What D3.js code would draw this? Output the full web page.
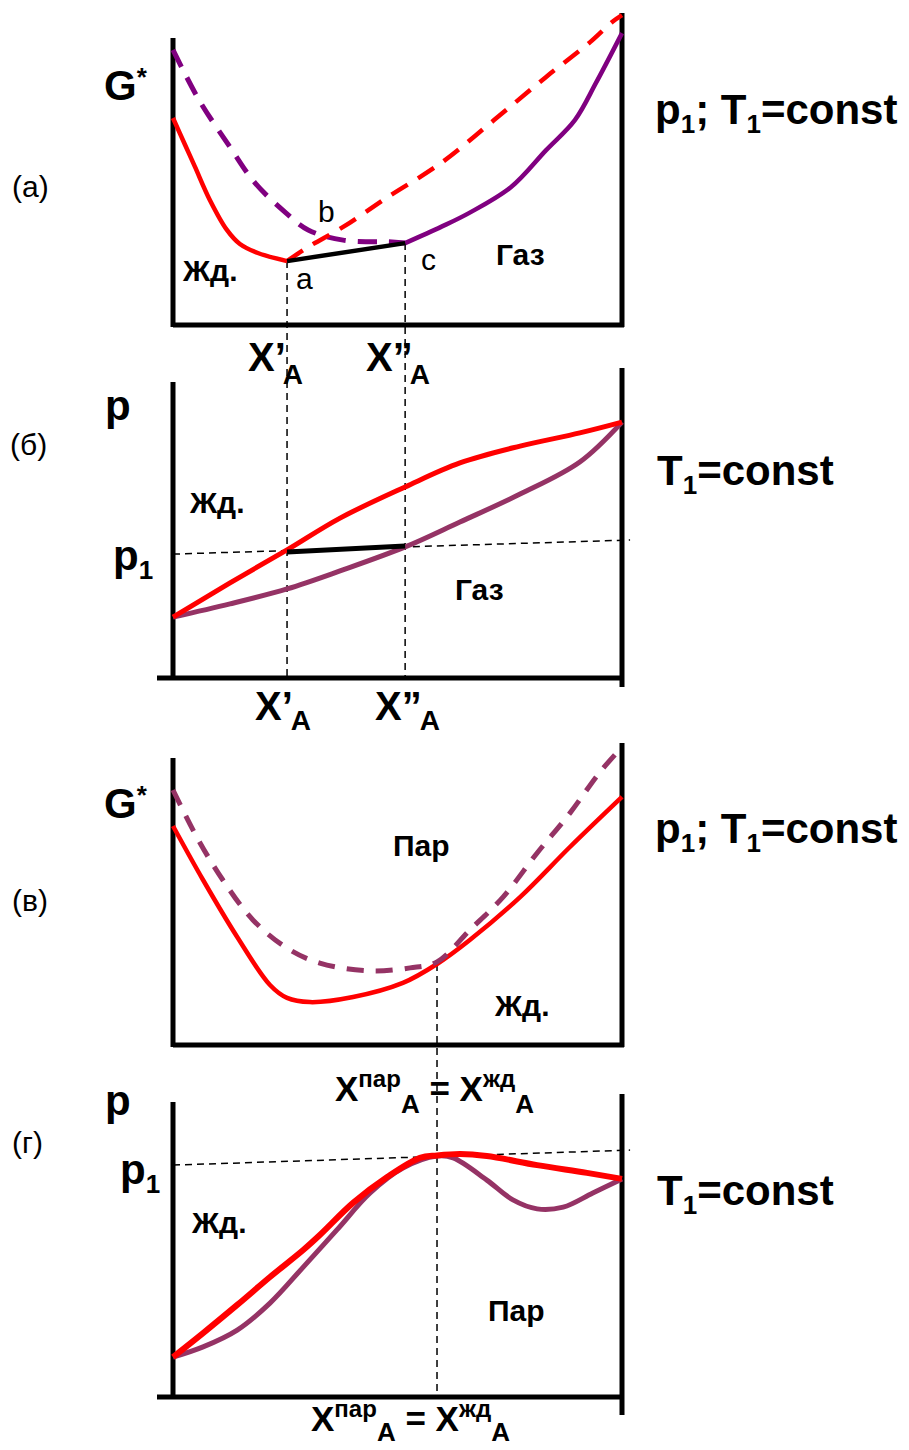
<!DOCTYPE html>
<html>
<head>
<meta charset="utf-8">
<script src="https://cdn.jsdelivr.net/npm/d3@7"></script>
<style>
  body { margin: 0; background: #fff; }
  text { font-family: "Liberation Sans", Arial, sans-serif; fill: #000; }
  .region { font-size: 30px; font-weight: bold; }
  .pt { font-size: 30px; }
  .tag { font-size: 30px; }
</style>
</head>
<body>
<svg width="909" height="1450"></svg>
<script>
// x = mole fraction of A (0..1), values in relative units (0..100)

// (а) G* at p1, T1
var liqG = [[0,69.0],[.027,60.0],[.049,52.7],[.082,41.7],[.120,31.7],[.149,27.0],[.189,24.0],[.254,21.3]];
var liqGmeta = [[.254,21.3],[.301,26.0],[.379,32.7],[.479,42.7],[.597,54.0],[.715,68.3],[.831,82.7],[.929,94.3],[.978,101.0],[1,103.3]];
var gasGmeta = [[0,91.7],[.058,75.0],[.127,59.3],[.183,47.3],[.252,37.3],[.301,31.7],[.379,28.3],[.488,27.7],[.517,27.3]];
var gasG = [[.517,27.3],[.597,32.7],[.659,37.3],[.753,46.0],[.831,58.3],[.895,68.3],[.942,80.7],[1,97.3]];
var tieA = [[.254,21.3],[.517,27.3]];

// (б) p at T1
var liqP = [[0,20.3],[.127,31.7],[.254,42.7],[.372,53.3],[.517,63.7],[.639,71.7],[.773,77.3],[.906,81.7],[1,85.3]];
var gasP = [[0,20.3],[.127,24.7],[.254,29.7],[.372,35.7],[.517,43.7],[.639,52.0],[.773,61.3],[.906,72.0],[1,85.3]];
var tieB = [[.254,42.0],[.517,44.0]];
var p1B = [[0,41.3],[1.018,46.0]];

// (в) G* with azeotrope
var liqG2 = [[0,73.0],[.067,55.0],[.143,36.0],[.216,20.0],[.254,15.7],[.305,14.3],[.401,16.0],[.512,20.7],[.588,27.0],[.661,35.0],[.773,49.3],[.884,66.0],[1,82.7]];
var gasG2 = [[0,85.0],[.053,69.3],[.111,55.0],[.178,41.7],[.254,32.3],[.327,27.3],[.439,24.7],[.528,25.7],[.588,27.7],[.661,38.3],[.735,49.3],[.811,64.0],[.884,77.3],[.951,91.0],[1,99.3]];

// (г) p with azeotrope
var liqP2 = [[0,13.3],[.067,21.3],[.143,30.7],[.216,40.0],[.290,49.0],[.327,54.0],[.401,64.7],[.477,73.3],[.550,79.7],[.588,80.5],[.640,81.0],[.699,80.3],[.811,77.3],[.922,74.7],[1,72.7]];
var gasP2 = [[0,13.3],[.067,16.7],[.143,22.3],[.216,31.3],[.290,43.3],[.365,55.7],[.439,68.0],[.512,76.3],[.588,80.3],[.624,79.7],[.699,72.3],[.757,65.7],[.811,62.7],[.869,63.3],[.935,68.0],[1,72.7]];
var p1G = [[0,77.3],[1.018,82.3]];

var xA1 = .254, xA2 = .517, xAz = .588;

var svg = d3.select("svg");
svg.append("rect").attr("width", 909).attr("height", 1450).attr("fill", "#fff");

var x = d3.scaleLinear().domain([0, 1]).range([173, 622]);
function yFor(bottom) { return d3.scaleLinear().domain([0, 100]).range([bottom, bottom - 300]); }
var yA = yFor(325), yB = yFor(678), yC = yFor(1045), yD = yFor(1397);

var RED = "#ff0000", VIOLET = "#800080", MAUVE = "#953365";

function curve(data, y, color, w, dash) {
  var line = d3.line()
      .x(function(d) { return x(d[0]); })
      .y(function(d) { return y(d[1]); })
      .curve(d3.curveCatmullRom.alpha(0.5));
  svg.append("path")
      .datum(data)
      .attr("d", line)
      .attr("fill", "none")
      .attr("stroke", color)
      .attr("stroke-width", w)
      .attr("stroke-linejoin", "round")
      .attr("stroke-dasharray", dash || null);
}
function seg(x1, y1, x2, y2, w, dash) {
  svg.append("line")
      .attr("x1", x1).attr("y1", y1).attr("x2", x2).attr("y2", y2)
      .attr("stroke", "#000").attr("stroke-width", w)
      .attr("stroke-dasharray", dash || null);
}
// text with sub/superscripts: parts = [text, size, offset, dx]
function rich(px, py, parts) {
  var t = svg.append("text").attr("x", px).attr("y", py).attr("font-weight", "bold");
  var prev = 0;
  parts.forEach(function(p) {
    var ts = t.append("tspan").text(p[0]).attr("font-size", p[1]);
    if (p[2] - prev) ts.attr("dy", p[2] - prev);
    if (p[3]) ts.attr("dx", p[3]);
    prev = p[2];
  });
}
function txt(px, py, s, cls) {
  svg.append("text").attr("x", px).attr("y", py).attr("class", cls).text(s);
}

// guide lines
seg(x(xA1), yA(21.3), x(xA1), yB(0), 1.5, "7,5");
seg(x(xA2), yA(27.3), x(xA2), yB(0), 1.5, "7,5");
seg(x(xAz), yC(27.0), x(xAz), yD(0), 1.5, "7,5");
seg(x(p1B[0][0]), yB(p1B[0][1]), x(p1B[1][0]), yB(p1B[1][1]), 1.5, "7,5");
seg(x(p1G[0][0]), yD(p1G[0][1]), x(p1G[1][0]), yD(p1G[1][1]), 1.5, "7,5");

// frames
[[38, 13, 325, 173, 325], [382, 368, 678, 157, 685], [758, 743, 1045, 173, 1045], [1102, 1094, 1397, 157, 1413]]
  .forEach(function(f) {
    seg(173, f[0], 173, f[2] + 2, 5);
    seg(622, f[1], 622, f[4] + 2, 5);
    seg(f[3], f[2], 624, f[2], 5);
  });

// (а)
curve(gasGmeta, yA, VIOLET, 5, "19,12");
curve(liqGmeta, yA, RED, 4.5, "19,12");
curve(liqG, yA, RED, 4.5);
curve(gasG, yA, VIOLET, 4.5);
curve(tieA, yA, "#000", 4.5);

// (б)
curve(gasP, yB, MAUVE, 5);
curve(liqP, yB, RED, 5);
curve(tieB, yB, "#000", 5);

// (в)
curve(liqG2, yC, RED, 4.5);
curve(gasG2, yC, MAUVE, 5, "17,12");

// (г)
curve(gasP2, yD, MAUVE, 5);
curve(liqP2, yD, RED, 6);

// panel tags
txt(12, 197, "(а)", "tag");
txt(10, 455, "(б)", "tag");
txt(12, 911, "(в)", "tag");
txt(12, 1153, "(г)", "tag");

// axis titles
rich(104, 100, [["G", 42, 0], ["*", 26, -14]]);
rich(105, 420, [["p", 42, 0]]);
rich(113, 570, [["p", 42, 0], ["1", 26, 9]]);
rich(104, 818, [["G", 42, 0], ["*", 26, -14]]);
rich(105, 1115, [["p", 42, 0]]);
rich(120, 1184, [["p", 42, 0], ["1", 26, 9]]);

// conditions
rich(655, 124, [["p", 42, 0], ["1", 26, 9], ["; T", 42, 0], ["1", 26, 9], ["=const", 42, 0]]);
rich(657, 485, [["T", 42, 0], ["1", 26, 9], ["=const", 42, 0]]);
rich(655, 843, [["p", 42, 0], ["1", 26, 9], ["; T", 42, 0], ["1", 26, 9], ["=const", 42, 0]]);
rich(657, 1205, [["T", 42, 0], ["1", 26, 9], ["=const", 42, 0]]);

// composition labels
rich(248, 371, [["X’", 40, 0], ["A", 28, 13, -3]]);
rich(366, 371, [["X”", 40, 0], ["A", 28, 13, -3]]);
rich(255, 720, [["X’", 40, 0], ["A", 28, 10, -2]]);
rich(375, 720, [["X”", 40, 0], ["A", 28, 10, -2]]);
rich(335, 1101, [["X", 35, 0], ["пар", 24, -14], ["A", 26, 12], [" = ", 35, 0], ["X", 35, 0], ["жд", 24, -14], ["A", 26, 12]]);
rich(311, 1431, [["X", 35, 0], ["пар", 24, -14], ["A", 26, 10], [" = ", 35, 0], ["X", 35, 0], ["жд", 24, -14], ["A", 26, 10]]);

// region and point labels
txt(183, 281, "Жд.", "region");
txt(496, 265, "Газ", "region");
txt(296, 289, "a", "pt");
txt(318, 222, "b", "pt");
txt(421, 270, "c", "pt");
txt(190, 513, "Жд.", "region");
txt(455, 600, "Газ", "region");
txt(393, 856, "Пар", "region");
txt(495, 1016, "Жд.", "region");
txt(192, 1233, "Жд.", "region");
txt(488, 1321, "Пар", "region");
</script>
</body>
</html>
